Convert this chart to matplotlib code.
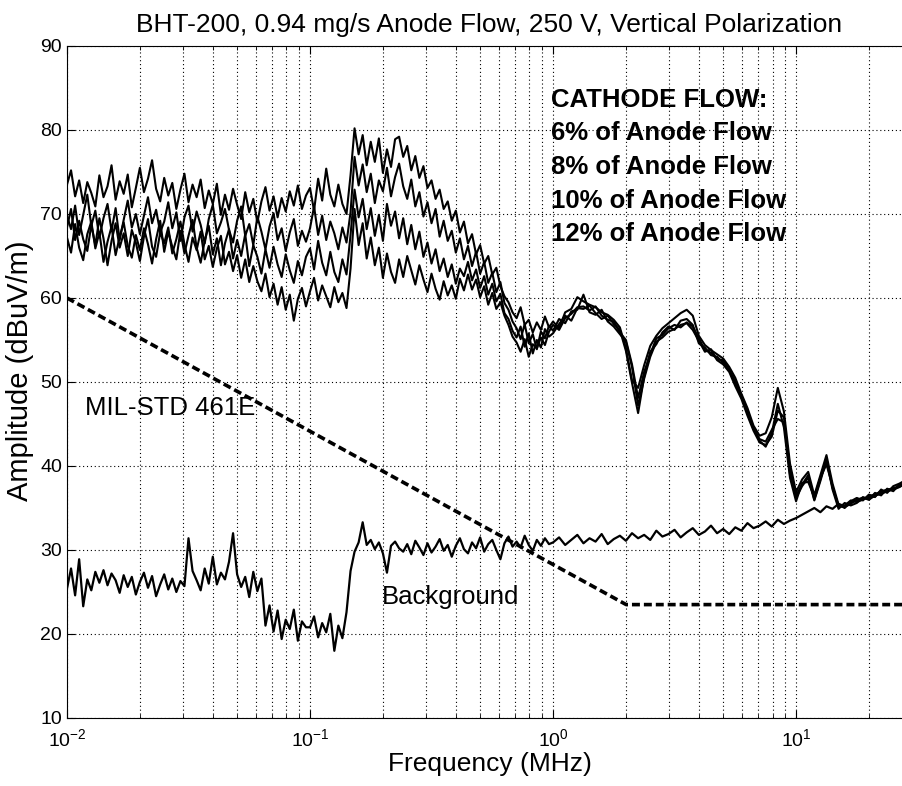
import numpy as np
import matplotlib
matplotlib.use("Agg")
import matplotlib.pyplot as plt
from matplotlib.ticker import LogLocator, NullFormatter

plt.rcParams['font.family'] = ['Liberation Sans', 'DejaVu Sans']

# frequency sweep (MHz), one list per band
freq_lo = [0.01000, 0.01039, 0.01080, 0.01122, 0.01166, 0.01212, 0.01259, 0.01308, 0.01359, 0.01413,
           0.01468, 0.01525, 0.01585, 0.01647, 0.01711, 0.01778, 0.01848, 0.01920, 0.01995, 0.02073,
           0.02154, 0.02239, 0.02326, 0.02418, 0.02512, 0.02610, 0.02712, 0.02818, 0.02929, 0.03043,
           0.03162, 0.03286, 0.03415, 0.03548, 0.03687, 0.03831, 0.03981, 0.04137, 0.04299, 0.04467,
           0.04642, 0.04823, 0.05012, 0.05208, 0.05412, 0.05623, 0.05843, 0.06072, 0.06310, 0.06556,
           0.06813, 0.07079, 0.07356, 0.07644, 0.07943, 0.08254, 0.08577, 0.08913, 0.09261, 0.09624]
freq_mid = [0.1000, 0.1039, 0.1080, 0.1122, 0.1166, 0.1212, 0.1259, 0.1308, 0.1359, 0.1413,
            0.1468, 0.1525, 0.1585, 0.1647, 0.1711, 0.1778, 0.1848, 0.1920, 0.1995, 0.2073,
            0.2154, 0.2239, 0.2326, 0.2418, 0.2512, 0.2610, 0.2712, 0.2818, 0.2929, 0.3043,
            0.3162, 0.3286, 0.3415, 0.3548, 0.3687, 0.3831, 0.3981, 0.4137, 0.4299, 0.4467,
            0.4642, 0.4823, 0.5012, 0.5208, 0.5412, 0.5623, 0.5843, 0.6072, 0.6310, 0.6556,
            0.6813, 0.7079, 0.7356, 0.7644, 0.7943, 0.8254, 0.8577, 0.8913, 0.9261, 0.9624]
freq_hi = [1.000, 1.059, 1.122, 1.189, 1.259, 1.334, 1.413, 1.496, 1.585, 1.679,
           1.778, 1.884, 1.995, 2.113, 2.239, 2.371, 2.512, 2.661, 2.818, 2.985,
           3.162, 3.350, 3.548, 3.758, 3.981, 4.217, 4.467, 4.732, 5.012, 5.309,
           5.623, 5.957, 6.310, 6.683, 7.079, 7.499, 7.943, 8.414, 8.913, 9.441]
freq_top = [10.00, 10.59, 11.22, 11.89, 12.59, 13.34, 14.13, 14.96, 15.85, 16.79,
            17.78, 18.84, 19.95, 21.13, 22.39, 23.71, 25.12, 26.61, 28.18, 29.85]

# cathode flow runs (dBuV/m)
flow_6 = [73.5, 75.2, 72.1, 74.0, 71.3, 73.8, 72.5, 70.9, 74.6, 72.0,
          73.3, 75.8, 71.7, 73.9, 72.4, 74.7, 70.8, 73.1, 75.5, 72.6,
          74.2, 76.4, 73.0, 71.5, 74.3, 72.2, 73.7, 70.6, 72.9, 74.8,
          71.4, 73.5, 72.0, 74.1, 70.7, 72.8, 71.2, 73.6, 69.9, 72.3,
          70.5, 73.0, 71.1, 69.4, 72.6, 70.2, 71.8, 69.0, 71.5, 73.2,
          70.4, 72.1, 69.6, 71.9, 70.3, 72.7, 71.0, 73.4, 70.6, 72.2,
          73.1, 70.4, 74.2, 71.6, 75.4, 72.3, 70.9, 73.5, 71.2, 70.0,
          74.6, 80.2, 77.1, 79.4, 75.8, 78.6, 76.2, 79.0, 74.9, 77.7,
          75.6, 78.9, 79.2, 76.8, 78.1, 75.2, 76.9, 74.3, 75.7, 73.1,
          74.0, 71.8, 72.9, 70.6, 71.5, 69.2, 70.4, 67.8, 69.1, 66.5,
          67.6, 65.2, 66.3, 64.1, 65.0, 62.8, 63.6, 61.4, 60.2, 59.5,
          58.3, 57.6, 58.9, 56.8, 57.4, 55.9, 57.1, 56.2, 57.8, 56.5,
          57.2, 56.4, 58.3, 58.7, 60.1, 59.6, 59.2, 58.9, 58.3, 58.0,
          57.4, 56.5, 54.0, 50.2, 49.3, 52.0, 54.3, 55.5, 56.4, 57.0,
          57.6, 58.2, 58.6, 57.9, 55.5, 54.4, 53.8, 53.3, 52.8, 51.8,
          50.5, 48.6, 46.9, 44.8, 43.6, 43.9, 45.8, 49.3, 46.5, 40.3,
          36.9, 38.4, 39.3, 36.5, 38.9, 41.3, 37.9, 35.4, 35.0, 35.8,
          36.2, 35.9, 36.6, 36.3, 37.2, 36.8, 37.6, 37.9, 38.3, 39.0]
flow_8 = [69.8, 68.2, 71.0, 67.5, 69.9, 72.3, 68.6, 70.4, 67.2, 69.5,
          71.2, 68.0, 70.7, 66.9, 69.3, 71.6, 68.4, 70.0, 67.6, 69.8,
          72.0, 68.9, 70.5, 67.8, 69.1, 71.4, 68.3, 70.2, 66.8, 69.6,
          71.0, 67.9, 70.3, 68.7, 66.5, 69.4, 71.1, 67.7, 69.0, 70.6,
          68.1, 66.6, 69.2, 70.9, 67.4, 68.8, 66.3, 69.7, 67.9, 65.8,
          68.5, 70.1, 66.9, 68.3, 65.6, 67.8, 69.4, 66.2, 68.0, 66.7,
          68.3, 70.9, 67.5, 69.8, 66.9, 69.1, 67.7, 65.8, 68.4, 66.6,
          70.2, 76.8, 73.4, 75.9, 72.6, 74.8, 71.3, 74.0, 72.7, 75.5,
          72.1, 74.4, 76.0, 73.3, 71.8, 74.1, 70.9, 72.6, 69.7, 71.4,
          68.9, 70.6, 67.3, 69.2, 66.8, 68.0, 65.4, 67.1, 64.6, 66.2,
          63.8, 65.5, 62.9, 64.3, 61.8, 63.0, 60.7, 61.9, 59.4, 58.6,
          57.2, 56.4, 55.1, 56.9, 54.6, 55.7, 53.9, 56.0, 55.2, 56.7,
          56.1, 57.5, 57.0, 58.4, 58.6, 60.4, 58.3, 58.0, 58.6, 57.2,
          56.6, 55.7, 54.8, 51.8, 47.2, 50.4, 53.0, 54.8, 55.3, 56.0,
          56.3, 56.8, 57.0, 56.2, 54.9, 53.6, 53.9, 52.6, 52.1, 51.2,
          49.5, 48.0, 46.0, 44.2, 42.8, 42.5, 43.5, 46.6, 45.8, 39.0,
          36.2, 37.6, 38.6, 35.9, 38.2, 40.7, 37.2, 34.9, 35.6, 35.3,
          35.6, 36.3, 36.0, 36.8, 36.5, 37.3, 37.0, 37.8, 37.7, 38.6]
flow_10 = [67.2, 65.4, 68.8, 66.0, 64.5, 67.6, 69.1, 65.9, 67.8, 64.3,
           66.7, 68.5, 65.1, 67.3, 69.0, 66.2, 64.8, 67.5, 65.7, 68.3,
           66.4, 64.1, 67.0, 69.2, 65.5, 67.9, 66.1, 64.6, 68.0, 65.3,
           67.4, 69.3, 66.0, 64.2, 66.8, 68.6, 65.2, 67.1, 63.9, 66.5,
           68.2, 64.7, 66.9, 65.0, 67.6, 63.8, 66.3, 64.9, 62.9, 65.8,
           63.6, 66.1, 64.0, 62.5, 65.2, 63.3, 61.8, 64.4, 62.7, 64.9,
           65.9, 63.4, 66.8, 64.2, 62.7, 65.5, 63.1, 61.9, 64.6, 62.8,
           67.5, 72.9, 69.6, 71.8, 68.2, 70.7, 67.4, 69.9, 66.8, 71.2,
           68.6, 70.3, 67.1, 69.5, 66.4, 68.7, 65.8, 67.9, 64.9, 66.6,
           64.1, 65.8, 63.2, 64.7, 62.5, 64.0, 61.7, 63.5, 62.6, 64.3,
           62.1, 63.4, 61.2, 62.6, 60.4, 61.7, 59.6, 60.5, 58.2, 57.5,
           56.1, 55.3, 56.6, 54.2, 55.8, 53.4, 55.0, 54.1, 56.3, 55.4,
           55.8, 56.9, 57.9, 57.3, 58.8, 58.7, 59.1, 58.2, 57.5, 57.9,
           56.9, 56.2, 53.7, 49.9, 46.3, 50.6, 53.6, 54.5, 55.9, 56.6,
           56.2, 57.3, 57.5, 56.8, 54.6, 54.1, 53.2, 53.0, 52.3, 51.5,
           49.8, 48.2, 46.4, 44.5, 43.0, 42.3, 43.9, 47.4, 44.6, 38.6,
           35.8, 38.0, 38.1, 36.3, 38.6, 40.2, 37.6, 35.1, 35.3, 35.9,
           35.7, 36.0, 36.4, 36.6, 37.0, 37.1, 37.4, 37.5, 38.2, 38.4]
flow_12 = [68.4, 70.6, 66.9, 69.2, 67.0, 65.6, 68.7, 66.3, 69.5, 67.1,
           63.9, 66.8, 68.9, 66.0, 67.7, 65.0, 68.1, 66.6, 64.4, 67.3,
           69.4, 66.1, 64.9, 67.8, 66.5, 68.4, 65.3, 67.0, 69.1, 66.4,
           64.3, 67.2, 65.7, 67.9, 64.6, 66.2, 63.7, 65.9, 67.4, 64.0,
           65.5, 63.2, 65.1, 62.4, 64.6, 61.9, 63.8, 62.0, 60.8, 62.9,
           60.1, 61.7, 59.2, 61.3, 58.6, 60.4, 57.3, 59.9, 61.2, 59.0,
           60.8, 62.4, 59.7, 61.5, 60.2, 58.9, 61.3, 59.5, 60.6, 58.8,
           63.5, 70.6, 66.3, 68.9, 64.7, 67.2, 63.9, 66.0, 62.4, 65.3,
           63.1, 61.8, 64.6, 62.5, 65.0, 63.3, 61.6, 63.9, 62.2, 60.7,
           62.9, 61.1, 59.8, 62.0, 60.3, 61.5, 59.9, 62.3, 60.9, 62.8,
           61.0, 62.2, 60.1, 61.4, 59.2, 60.6, 58.7, 59.5, 57.9, 56.8,
           55.4, 54.7, 53.6, 55.1, 53.0, 54.5, 54.0, 55.3, 54.4, 56.0,
           56.8, 56.2, 57.6, 58.1, 58.9, 59.0, 58.5, 59.0, 57.9, 57.4,
           57.2, 55.9, 55.0, 52.1, 48.1, 51.2, 53.3, 55.2, 55.6, 56.4,
           56.8, 56.5, 57.1, 56.6, 55.2, 53.8, 53.5, 52.7, 52.6, 51.4,
           50.1, 48.4, 46.7, 44.4, 43.2, 42.9, 44.3, 45.6, 45.2, 39.8,
           36.5, 37.8, 38.9, 36.0, 38.4, 40.9, 37.4, 35.3, 35.1, 35.5,
           36.0, 36.2, 36.2, 36.4, 36.9, 37.2, 37.2, 37.7, 38.0, 38.8]
background = [25.4, 27.8, 24.6, 28.9, 23.3, 26.5, 25.2, 27.4, 26.1, 27.6,
              25.8, 27.2, 26.4, 24.9, 27.0, 25.6, 26.8, 24.7, 26.2, 27.3,
              25.5, 26.9, 24.5, 25.9, 27.1, 25.3, 26.6, 25.0, 26.3, 25.7,
              31.4, 27.5, 26.4, 25.2, 27.8, 26.0, 29.2, 25.9, 27.3, 26.5,
              28.6, 32.0, 27.1, 25.6, 26.8, 24.4, 27.4, 25.1, 26.6, 21.0,
              23.4, 20.3, 22.8, 19.4, 21.7, 20.6, 22.9, 19.2, 21.5, 20.8,
              20.8, 22.1, 19.6, 21.3, 20.2, 22.4, 18.0, 21.0, 19.5, 22.6,
              27.5, 29.8, 30.9, 33.3, 30.6, 31.2, 30.1, 30.9, 29.6, 27.3,
              30.5, 31.0, 30.2, 29.8, 30.7, 29.5, 31.1, 30.3, 29.4, 30.8,
              29.7, 30.4, 31.3, 29.9, 30.6, 29.2, 30.5, 31.4, 30.1, 29.6,
              30.9, 30.2, 31.5, 29.8, 30.7, 31.2, 30.0, 28.9, 30.8, 31.6,
              30.4, 31.0, 30.3, 31.7, 30.6, 29.9, 31.2, 30.5, 31.4, 30.7,
              30.9, 31.5, 30.6, 31.2, 31.8, 30.8, 31.4, 31.0, 31.9, 30.7,
              31.3, 31.7, 31.1, 32.0, 31.4, 31.8, 31.2, 32.3, 31.6, 31.9,
              32.4, 31.5, 32.1, 32.6, 31.8, 32.2, 32.9, 32.0, 32.5, 31.9,
              32.7, 32.3, 33.2, 32.6, 32.9, 33.4, 32.8, 33.6, 33.1, 33.5,
              33.8, 34.2, 34.6, 35.0, 34.5, 35.2, 34.9, 35.5, 35.2, 35.7,
              35.9, 36.2, 36.0, 36.5, 36.7, 37.0, 37.2, 37.5, 37.9, 38.3]

# MIL-STD 461E limit
mil_freq = [0.01, 2.0, 30.0]
mil_level = [60.0, 23.5, 23.5]

legend_lines = ["CATHODE FLOW:", "6% of Anode Flow", "8% of Anode Flow",
                "10% of Anode Flow", "12% of Anode Flow"]

freq = freq_lo + freq_mid + freq_hi + freq_top

fig = plt.figure(figsize=(9.02, 7.86), dpi=100)
ax = fig.add_axes([67 / 902, 68 / 786, 845 / 902, 672 / 786])

for serie in [flow_6, flow_8, flow_10, flow_12]:
    ax.plot(freq, serie, color='black', linewidth=1.5, zorder=3)
ax.plot(freq, background, color='black', linewidth=1.6, zorder=3)
ax.plot(mil_freq, mil_level, color='black', linewidth=2.6,
        linestyle=(0, (2.2, 1.1)), zorder=3)

ax.set_xscale('log')
ax.set_xlim(0.01, 30)
ax.set_ylim(10, 90)
ax.set_yticks(range(10, 91, 10))
ax.xaxis.set_major_locator(LogLocator(base=10, numticks=10))
ax.xaxis.set_minor_locator(LogLocator(base=10, subs=np.arange(2, 10), numticks=20))
ax.xaxis.set_minor_formatter(NullFormatter())

ax.grid(True, which='major', color='black', linestyle=(0, (1, 2.5)), linewidth=0.8)
ax.grid(True, which='minor', axis='x', color='black', linestyle=(0, (1, 2.5)), linewidth=0.8)
ax.tick_params(which='both', direction='in', top=True, right=True, labelsize=14)
ax.tick_params(which='major', length=6)
ax.tick_params(which='minor', length=3)
ax.tick_params(axis='x', which='major', pad=7)

ax.set_title("BHT-200, 0.94 mg/s Anode Flow, 250 V, Vertical Polarization",
             fontsize=19, pad=10)
ax.set_xlabel("Frequency (MHz)", fontsize=19, labelpad=2)
ax.set_ylabel("Amplitude (dBuV/m)", fontsize=21, labelpad=0)
ax.yaxis.set_label_coords(-0.039, 0.516)

ax.text(0.0119, 46.9, "MIL-STD 461E", fontsize=18.5, va='center', ha='left')
ax.text(0.197, 24.4, "Background", fontsize=18.5, va='center', ha='left')
ys = [83.6, 79.6, 75.6, 71.6, 67.6]
for texto, y in zip(legend_lines, ys):
    ax.text(0.982, y, texto, fontsize=18.5, fontweight='bold', va='center', ha='left')

plt.savefig("out.png", dpi=100)
plt.close(fig)
